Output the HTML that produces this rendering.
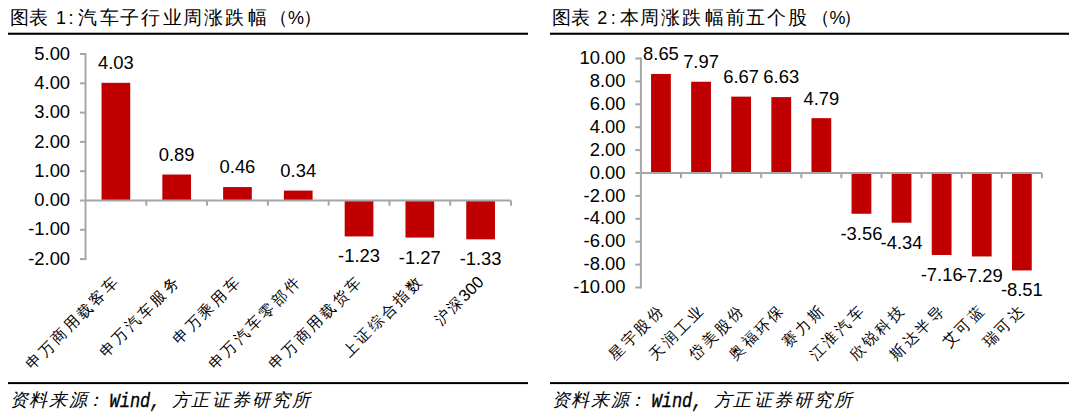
<!DOCTYPE html>
<html><head><meta charset="utf-8"><style>
html,body{margin:0;padding:0;background:#fff;width:1080px;height:417px;overflow:hidden}
svg{display:block}
text{font-family:"Liberation Sans",sans-serif;fill:#000}
.n{font-size:18.4px}
.c{font-size:15px}
.cd{font-size:16.5px}
.tc{font-size:19px}
.td{font-size:18px}
.fc{font-size:18px;font-style:italic}
.fd{font-family:"Liberation Mono",monospace;font-size:20px;font-style:italic;font-weight:normal;stroke:#000;stroke-width:0.35px}
</style></head><body>
<svg width="1080" height="417" viewBox="0 0 1080 417">
<text y="24"><tspan x="10.10" class="tc">图</tspan><tspan x="29.40" class="tc">表</tspan><tspan x="56.00" class="td">1</tspan><tspan x="68.60" class="td">:</tspan><tspan x="77.50" class="tc">汽</tspan><tspan x="99.70" class="tc">车</tspan><tspan x="119.70" class="tc">子</tspan><tspan x="141.20" class="tc">行</tspan><tspan x="162.70" class="tc">业</tspan><tspan x="183.40" class="tc">周</tspan><tspan x="204.20" class="tc">涨</tspan><tspan x="224.90" class="tc">跌</tspan><tspan x="247.90" class="tc">幅</tspan><tspan x="269.00" class="tc">（</tspan><tspan x="287.90" class="td">%</tspan><tspan x="303.40" class="tc">）</tspan></text>
<text y="24"><tspan x="552.10" class="tc">图</tspan><tspan x="570.70" class="tc">表</tspan><tspan x="597.30" class="td">2</tspan><tspan x="610.70" class="td">:</tspan><tspan x="620.30" class="tc">本</tspan><tspan x="640.30" class="tc">周</tspan><tspan x="661.00" class="tc">涨</tspan><tspan x="681.80" class="tc">跌</tspan><tspan x="704.90" class="tc">幅</tspan><tspan x="726.40" class="tc">前</tspan><tspan x="746.40" class="tc">五</tspan><tspan x="767.10" class="tc">个</tspan><tspan x="787.90" class="tc">股</tspan><tspan x="810.50" class="tc">（</tspan><tspan x="829.40" class="td">%</tspan><tspan x="843.40" class="tc">）</tspan></text>
<rect x="8" y="32.7" width="520" height="2.1" fill="#000"/>
<rect x="550" y="32.7" width="519" height="2.1" fill="#000"/>
<line x1="85.5" y1="53.0" x2="85.5" y2="260.1" stroke="#a6a6a6" stroke-width="2"/>
<line x1="79.9" y1="259.10" x2="85.5" y2="259.10" stroke="#a6a6a6" stroke-width="2"/>
<text x="70.1" y="264.70" text-anchor="end" class="n">-2.00</text>
<line x1="79.9" y1="229.80" x2="85.5" y2="229.80" stroke="#a6a6a6" stroke-width="2"/>
<text x="70.1" y="235.40" text-anchor="end" class="n">-1.00</text>
<line x1="79.9" y1="200.50" x2="85.5" y2="200.50" stroke="#a6a6a6" stroke-width="2"/>
<text x="70.1" y="206.10" text-anchor="end" class="n">0.00</text>
<line x1="79.9" y1="171.20" x2="85.5" y2="171.20" stroke="#a6a6a6" stroke-width="2"/>
<text x="70.1" y="176.80" text-anchor="end" class="n">1.00</text>
<line x1="79.9" y1="141.90" x2="85.5" y2="141.90" stroke="#a6a6a6" stroke-width="2"/>
<text x="70.1" y="147.50" text-anchor="end" class="n">2.00</text>
<line x1="79.9" y1="112.60" x2="85.5" y2="112.60" stroke="#a6a6a6" stroke-width="2"/>
<text x="70.1" y="118.20" text-anchor="end" class="n">3.00</text>
<line x1="79.9" y1="83.30" x2="85.5" y2="83.30" stroke="#a6a6a6" stroke-width="2"/>
<text x="70.1" y="88.90" text-anchor="end" class="n">4.00</text>
<line x1="79.9" y1="54.00" x2="85.5" y2="54.00" stroke="#a6a6a6" stroke-width="2"/>
<text x="70.1" y="59.60" text-anchor="end" class="n">5.00</text>
<rect x="101.54" y="82.82" width="28.7" height="117.68" fill="#c00000"/>
<rect x="162.33" y="174.51" width="28.7" height="25.99" fill="#c00000"/>
<rect x="223.11" y="187.07" width="28.7" height="13.43" fill="#c00000"/>
<rect x="283.90" y="190.57" width="28.7" height="9.93" fill="#c00000"/>
<rect x="344.69" y="200.50" width="28.7" height="35.92" fill="#c00000"/>
<rect x="405.47" y="200.50" width="28.7" height="37.08" fill="#c00000"/>
<rect x="466.26" y="200.50" width="28.7" height="38.84" fill="#c00000"/>
<line x1="85.5" y1="200.5" x2="511.0" y2="200.5" stroke="#a6a6a6" stroke-width="2"/>
<line x1="146.29" y1="200.5" x2="146.29" y2="205.7" stroke="#a6a6a6" stroke-width="2"/>
<line x1="207.07" y1="200.5" x2="207.07" y2="205.7" stroke="#a6a6a6" stroke-width="2"/>
<line x1="267.86" y1="200.5" x2="267.86" y2="205.7" stroke="#a6a6a6" stroke-width="2"/>
<line x1="328.64" y1="200.5" x2="328.64" y2="205.7" stroke="#a6a6a6" stroke-width="2"/>
<line x1="389.43" y1="200.5" x2="389.43" y2="205.7" stroke="#a6a6a6" stroke-width="2"/>
<line x1="450.21" y1="200.5" x2="450.21" y2="205.7" stroke="#a6a6a6" stroke-width="2"/>
<line x1="511.00" y1="200.5" x2="511.00" y2="205.7" stroke="#a6a6a6" stroke-width="2"/>
<text x="115.89" y="69.22" text-anchor="middle" class="n">4.03</text>
<text x="176.68" y="160.91" text-anchor="middle" class="n">0.89</text>
<text x="237.46" y="173.47" text-anchor="middle" class="n">0.46</text>
<text x="298.25" y="176.97" text-anchor="middle" class="n">0.34</text>
<text x="359.04" y="262.42" text-anchor="middle" class="n">-1.23</text>
<text x="419.82" y="263.58" text-anchor="middle" class="n">-1.27</text>
<text x="480.61" y="265.34" text-anchor="middle" class="n">-1.33</text>
<g transform="translate(113.59 280.90) rotate(-45)"><text><tspan x="-120.90" y="5.70" class="c">申</tspan><tspan x="-103.00" y="5.70" class="c">万</tspan><tspan x="-85.10" y="5.70" class="c">商</tspan><tspan x="-67.20" y="5.70" class="c">用</tspan><tspan x="-49.30" y="5.70" class="c">载</tspan><tspan x="-31.40" y="5.70" class="c">客</tspan><tspan x="-13.50" y="5.70" class="c">车</tspan></text></g>
<g transform="translate(174.38 280.90) rotate(-45)"><text><tspan x="-103.00" y="5.70" class="c">申</tspan><tspan x="-85.10" y="5.70" class="c">万</tspan><tspan x="-67.20" y="5.70" class="c">汽</tspan><tspan x="-49.30" y="5.70" class="c">车</tspan><tspan x="-31.40" y="5.70" class="c">服</tspan><tspan x="-13.50" y="5.70" class="c">务</tspan></text></g>
<g transform="translate(235.16 280.90) rotate(-45)"><text><tspan x="-85.10" y="5.70" class="c">申</tspan><tspan x="-67.20" y="5.70" class="c">万</tspan><tspan x="-49.30" y="5.70" class="c">乘</tspan><tspan x="-31.40" y="5.70" class="c">用</tspan><tspan x="-13.50" y="5.70" class="c">车</tspan></text></g>
<g transform="translate(295.95 280.90) rotate(-45)"><text><tspan x="-120.90" y="5.70" class="c">申</tspan><tspan x="-103.00" y="5.70" class="c">万</tspan><tspan x="-85.10" y="5.70" class="c">汽</tspan><tspan x="-67.20" y="5.70" class="c">车</tspan><tspan x="-49.30" y="5.70" class="c">零</tspan><tspan x="-31.40" y="5.70" class="c">部</tspan><tspan x="-13.50" y="5.70" class="c">件</tspan></text></g>
<g transform="translate(356.74 280.90) rotate(-45)"><text><tspan x="-120.90" y="5.70" class="c">申</tspan><tspan x="-103.00" y="5.70" class="c">万</tspan><tspan x="-85.10" y="5.70" class="c">商</tspan><tspan x="-67.20" y="5.70" class="c">用</tspan><tspan x="-49.30" y="5.70" class="c">载</tspan><tspan x="-31.40" y="5.70" class="c">货</tspan><tspan x="-13.50" y="5.70" class="c">车</tspan></text></g>
<g transform="translate(417.52 280.90) rotate(-45)"><text><tspan x="-103.00" y="5.70" class="c">上</tspan><tspan x="-85.10" y="5.70" class="c">证</tspan><tspan x="-67.20" y="5.70" class="c">综</tspan><tspan x="-49.30" y="5.70" class="c">合</tspan><tspan x="-31.40" y="5.70" class="c">指</tspan><tspan x="-13.50" y="5.70" class="c">数</tspan></text></g>
<g transform="translate(480.71 278.50) rotate(-45)"><text><tspan x="-62.17" y="5.70" class="c">沪</tspan><tspan x="-44.27" y="5.70" class="c">深</tspan><tspan x="-27.82" y="5.94" class="cd">3</tspan><tspan x="-18.65" y="5.94" class="cd">0</tspan><tspan x="-9.47" y="5.94" class="cd">0</tspan></text></g>
<line x1="640.9" y1="57.5" x2="640.9" y2="288.5" stroke="#a6a6a6" stroke-width="2"/>
<line x1="635.3" y1="287.50" x2="640.9" y2="287.50" stroke="#a6a6a6" stroke-width="2"/>
<text x="625.5" y="293.10" text-anchor="end" class="n">-10.00</text>
<line x1="635.3" y1="264.60" x2="640.9" y2="264.60" stroke="#a6a6a6" stroke-width="2"/>
<text x="625.5" y="270.20" text-anchor="end" class="n">-8.00</text>
<line x1="635.3" y1="241.70" x2="640.9" y2="241.70" stroke="#a6a6a6" stroke-width="2"/>
<text x="625.5" y="247.30" text-anchor="end" class="n">-6.00</text>
<line x1="635.3" y1="218.80" x2="640.9" y2="218.80" stroke="#a6a6a6" stroke-width="2"/>
<text x="625.5" y="224.40" text-anchor="end" class="n">-4.00</text>
<line x1="635.3" y1="195.90" x2="640.9" y2="195.90" stroke="#a6a6a6" stroke-width="2"/>
<text x="625.5" y="201.50" text-anchor="end" class="n">-2.00</text>
<line x1="635.3" y1="173.00" x2="640.9" y2="173.00" stroke="#a6a6a6" stroke-width="2"/>
<text x="625.5" y="178.60" text-anchor="end" class="n">0.00</text>
<line x1="635.3" y1="150.10" x2="640.9" y2="150.10" stroke="#a6a6a6" stroke-width="2"/>
<text x="625.5" y="155.70" text-anchor="end" class="n">2.00</text>
<line x1="635.3" y1="127.20" x2="640.9" y2="127.20" stroke="#a6a6a6" stroke-width="2"/>
<text x="625.5" y="132.80" text-anchor="end" class="n">4.00</text>
<line x1="635.3" y1="104.30" x2="640.9" y2="104.30" stroke="#a6a6a6" stroke-width="2"/>
<text x="625.5" y="109.90" text-anchor="end" class="n">6.00</text>
<line x1="635.3" y1="81.40" x2="640.9" y2="81.40" stroke="#a6a6a6" stroke-width="2"/>
<text x="625.5" y="87.00" text-anchor="end" class="n">8.00</text>
<line x1="635.3" y1="58.50" x2="640.9" y2="58.50" stroke="#a6a6a6" stroke-width="2"/>
<text x="625.5" y="64.10" text-anchor="end" class="n">10.00</text>
<rect x="651.05" y="73.96" width="19.8" height="99.04" fill="#c00000"/>
<rect x="691.15" y="81.74" width="19.8" height="91.26" fill="#c00000"/>
<rect x="731.25" y="96.63" width="19.8" height="76.37" fill="#c00000"/>
<rect x="771.35" y="97.09" width="19.8" height="75.91" fill="#c00000"/>
<rect x="811.45" y="118.15" width="19.8" height="54.85" fill="#c00000"/>
<rect x="851.55" y="173.00" width="19.8" height="40.76" fill="#c00000"/>
<rect x="891.65" y="173.00" width="19.8" height="49.69" fill="#c00000"/>
<rect x="931.75" y="173.00" width="19.8" height="81.98" fill="#c00000"/>
<rect x="971.85" y="173.00" width="19.8" height="83.47" fill="#c00000"/>
<rect x="1011.95" y="173.00" width="19.8" height="97.44" fill="#c00000"/>
<line x1="640.9" y1="173.0" x2="1041.9" y2="173.0" stroke="#a6a6a6" stroke-width="2"/>
<line x1="681.00" y1="173.0" x2="681.00" y2="178.2" stroke="#a6a6a6" stroke-width="2"/>
<line x1="721.10" y1="173.0" x2="721.10" y2="178.2" stroke="#a6a6a6" stroke-width="2"/>
<line x1="761.20" y1="173.0" x2="761.20" y2="178.2" stroke="#a6a6a6" stroke-width="2"/>
<line x1="801.30" y1="173.0" x2="801.30" y2="178.2" stroke="#a6a6a6" stroke-width="2"/>
<line x1="841.40" y1="173.0" x2="841.40" y2="178.2" stroke="#a6a6a6" stroke-width="2"/>
<line x1="881.50" y1="173.0" x2="881.50" y2="178.2" stroke="#a6a6a6" stroke-width="2"/>
<line x1="921.60" y1="173.0" x2="921.60" y2="178.2" stroke="#a6a6a6" stroke-width="2"/>
<line x1="961.70" y1="173.0" x2="961.70" y2="178.2" stroke="#a6a6a6" stroke-width="2"/>
<line x1="1001.80" y1="173.0" x2="1001.80" y2="178.2" stroke="#a6a6a6" stroke-width="2"/>
<line x1="1041.90" y1="173.0" x2="1041.90" y2="178.2" stroke="#a6a6a6" stroke-width="2"/>
<text x="660.95" y="60.36" text-anchor="middle" class="n">8.65</text>
<text x="701.05" y="68.14" text-anchor="middle" class="n">7.97</text>
<text x="741.15" y="83.03" text-anchor="middle" class="n">6.67</text>
<text x="781.25" y="83.49" text-anchor="middle" class="n">6.63</text>
<text x="821.35" y="104.55" text-anchor="middle" class="n">4.79</text>
<text x="861.45" y="239.76" text-anchor="middle" class="n">-3.56</text>
<text x="901.55" y="248.69" text-anchor="middle" class="n">-4.34</text>
<text x="941.65" y="280.98" text-anchor="middle" class="n">-7.16</text>
<text x="981.75" y="282.47" text-anchor="middle" class="n">-7.29</text>
<text x="1021.85" y="296.44" text-anchor="middle" class="n">-8.51</text>
<g transform="translate(658.65 309.30) rotate(-45)"><text><tspan x="-67.20" y="5.70" class="c">星</tspan><tspan x="-49.30" y="5.70" class="c">宇</tspan><tspan x="-31.40" y="5.70" class="c">股</tspan><tspan x="-13.50" y="5.70" class="c">份</tspan></text></g>
<g transform="translate(698.75 309.30) rotate(-45)"><text><tspan x="-67.20" y="5.70" class="c">天</tspan><tspan x="-49.30" y="5.70" class="c">润</tspan><tspan x="-31.40" y="5.70" class="c">工</tspan><tspan x="-13.50" y="5.70" class="c">业</tspan></text></g>
<g transform="translate(738.85 309.30) rotate(-45)"><text><tspan x="-67.20" y="5.70" class="c">岱</tspan><tspan x="-49.30" y="5.70" class="c">美</tspan><tspan x="-31.40" y="5.70" class="c">股</tspan><tspan x="-13.50" y="5.70" class="c">份</tspan></text></g>
<g transform="translate(778.95 309.30) rotate(-45)"><text><tspan x="-67.20" y="5.70" class="c">奥</tspan><tspan x="-49.30" y="5.70" class="c">福</tspan><tspan x="-31.40" y="5.70" class="c">环</tspan><tspan x="-13.50" y="5.70" class="c">保</tspan></text></g>
<g transform="translate(819.05 309.30) rotate(-45)"><text><tspan x="-49.30" y="5.70" class="c">赛</tspan><tspan x="-31.40" y="5.70" class="c">力</tspan><tspan x="-13.50" y="5.70" class="c">斯</tspan></text></g>
<g transform="translate(859.15 309.30) rotate(-45)"><text><tspan x="-67.20" y="5.70" class="c">江</tspan><tspan x="-49.30" y="5.70" class="c">淮</tspan><tspan x="-31.40" y="5.70" class="c">汽</tspan><tspan x="-13.50" y="5.70" class="c">车</tspan></text></g>
<g transform="translate(899.25 309.30) rotate(-45)"><text><tspan x="-67.20" y="5.70" class="c">欣</tspan><tspan x="-49.30" y="5.70" class="c">锐</tspan><tspan x="-31.40" y="5.70" class="c">科</tspan><tspan x="-13.50" y="5.70" class="c">技</tspan></text></g>
<g transform="translate(939.35 309.30) rotate(-45)"><text><tspan x="-67.20" y="5.70" class="c">斯</tspan><tspan x="-49.30" y="5.70" class="c">达</tspan><tspan x="-31.40" y="5.70" class="c">半</tspan><tspan x="-13.50" y="5.70" class="c">导</tspan></text></g>
<g transform="translate(979.45 309.30) rotate(-45)"><text><tspan x="-49.30" y="5.70" class="c">艾</tspan><tspan x="-31.40" y="5.70" class="c">可</tspan><tspan x="-13.50" y="5.70" class="c">蓝</tspan></text></g>
<g transform="translate(1019.55 309.30) rotate(-45)"><text><tspan x="-49.30" y="5.70" class="c">瑞</tspan><tspan x="-31.40" y="5.70" class="c">可</tspan><tspan x="-13.50" y="5.70" class="c">达</tspan></text></g>
<rect x="8" y="382.1" width="520" height="2" fill="#000"/>
<rect x="550" y="382.1" width="519" height="2" fill="#000"/>
<text y="406"><tspan x="10.10" class="fc">资</tspan><tspan x="29.40" class="fc">料</tspan><tspan x="48.60" class="fc">来</tspan><tspan x="69.40" class="fc">源</tspan><tspan x="85.60" class="fc">：</tspan><tspan x="171.60" class="fc">方</tspan><tspan x="190.90" class="fc">正</tspan><tspan x="211.60" class="fc">证</tspan><tspan x="231.60" class="fc">券</tspan><tspan x="251.60" class="fc">研</tspan><tspan x="271.60" class="fc">究</tspan><tspan x="291.60" class="fc">所</tspan></text><text x="109.50" y="406.5" class="fd" textLength="51" lengthAdjust="spacingAndGlyphs">Wind,</text>
<text y="406"><tspan x="552.10" class="fc">资</tspan><tspan x="571.40" class="fc">料</tspan><tspan x="590.60" class="fc">来</tspan><tspan x="611.40" class="fc">源</tspan><tspan x="627.60" class="fc">：</tspan><tspan x="713.60" class="fc">方</tspan><tspan x="732.90" class="fc">正</tspan><tspan x="753.60" class="fc">证</tspan><tspan x="773.60" class="fc">券</tspan><tspan x="793.60" class="fc">研</tspan><tspan x="813.60" class="fc">究</tspan><tspan x="833.60" class="fc">所</tspan></text><text x="651.50" y="406.5" class="fd" textLength="51" lengthAdjust="spacingAndGlyphs">Wind,</text>
</svg>
</body></html>
